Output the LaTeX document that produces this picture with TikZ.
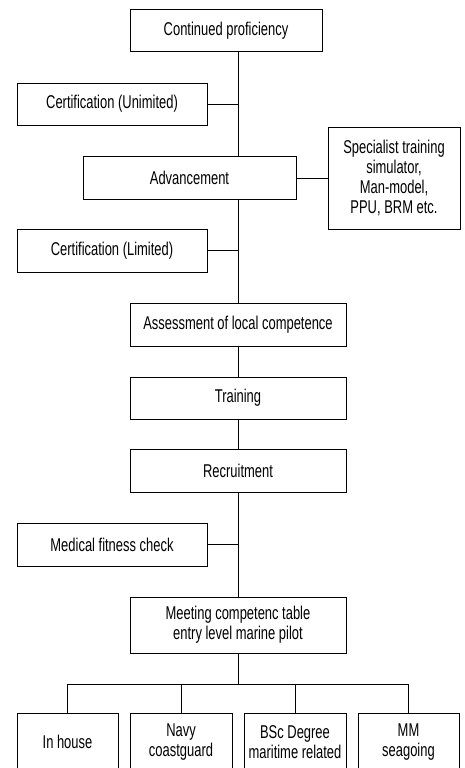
\documentclass[tikz,border=0pt]{standalone}
\usepackage{fontspec}
\newfontfamily\boxfont[FakeStretch=0.7]{Liberation Sans}

\begin{document}
\begin{tikzpicture}[x = 1pt, y = -1pt,
	box/.style = {draw, line width = 1pt, rectangle, align = center, inner sep = 2pt,
		font = \boxfont\fontsize{18.5}{20}\selectfont},
	link/.style = {line width = 1pt}]
		\useasboundingbox (0,0) rectangle (464,768);
		
		\node (cont) at (226,31) [box, minimum width = 192, minimum height = 42] {Continued proficiency};
		\node (certu) at (112,104) [box, minimum width = 190, minimum height = 42] {Certification (Unimited)};
		\node (adv) at (189.5,177.5) [box, minimum width = 213, minimum height = 43] {Advancement};
		\node (spec) at (394,178) [box, minimum width = 132, minimum height = 102] {Specialist training\\simulator,\\Man-model,\\PPU, BRM etc.};
		\node (certl) at (112,250.5) [box, minimum width = 190, minimum height = 43] {Certification (Limited)};
		
		\node (assess) at (238,324.5) [box, minimum width = 216, minimum height = 43] {Assessment of local competence};
		\node (train) at (238,398) [box, minimum width = 216, minimum height = 42] {Training};
		\node (recr) at (238,470.5) [box, minimum width = 216, minimum height = 43] {Recruitment};
		\node (med) at (112,544.5) [box, minimum width = 190, minimum height = 43] {Medical fitness check};
		\node (meet) at (238,625) [box, minimum width = 216, minimum height = 56] {Meeting competenc table\\entry level marine pilot};
		
		\node (inh) at (67.5,742) [box, minimum width = 101, minimum height = 58] {In house};
		\node (navy) at (181,742) [box, minimum width = 102, minimum height = 58] {Navy\\coastguard};
		\node (bsc) at (295,742) [box, minimum width = 102, minimum height = 58] {BSc Degree\\maritime related};
		\node (mm) at (408.5,742) [box, minimum width = 101, minimum height = 58] {MM\\seagoing};
		\coordinate (bar) at (238,684);
		
		% main line
		\draw [link] (cont.south -| assess) -- (adv.north -| assess);
		\draw [link] (adv.south -| assess) -- (assess.north);
		\draw [link] (assess) -- (train);
		\draw [link] (train) -- (recr);
		\draw [link] (recr.south) -- (meet.north);
		
		% side boxes
		\draw [link] (certu.east) -- (certu.east -| assess);
		\draw [link] (certl.east) -- (certl.east -| assess);
		\draw [link] (med.east) -- (med.east -| assess);
		\draw [link] (adv.east |- spec.west) -- (spec.west);
		
		\draw [link] (meet.south) -- (bar);
		\foreach \b in {inh,navy,bsc,mm}
			\draw [link] (\b.north) |- (bar);
\end{tikzpicture}
\end{document}
